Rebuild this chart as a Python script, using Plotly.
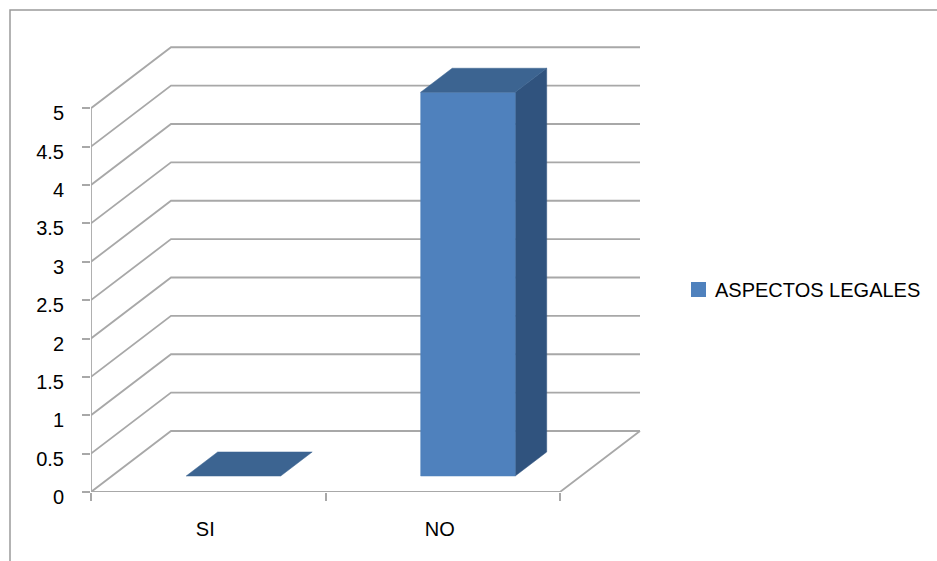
import plotly.graph_objects as go

# Data
categories = ["SI", "NO"]
values = [0, 5]
series_name = "ASPECTOS LEGALES"
y_ticks = [0, 0.5, 1, 1.5, 2, 2.5, 3, 3.5, 4, 4.5, 5]

# Styling / oblique projection constants
W, H = 937, 561
M_L, M_R, M_T, M_B = 91, 292, 40, 69
PX_CAT = 234.5          # pixels per category slot
PX_VAL = 76.75          # pixels per value unit
DX = 80 / PX_CAT        # depth offset of the back wall (x, category units)
DY = 61 / PX_VAL        # depth offset of the back wall (y, value units)
F0, F1 = 0.262, 0.656   # bar front / back depth fractions
BAR_W = 0.403
BAR_SHIFT = 0.018
GRID = "#A8A8A8"
FRONT = "#4F81BD"
TOP = "#3C6491"
SIDE = "#30537E"
FONT = "Liberation Sans, Arial, sans-serif"

plot_w = W - M_L - M_R
plot_h = H - M_T - M_B
x_max = plot_w / PX_CAT
y_max = plot_h / PX_VAL
n = len(categories)

fig = go.Figure()

# Back wall gridlines and floor
gx, gy = [], []
for v in y_ticks:
    gx += [0, DX, n + DX, None]
    gy += [v, v + DY, v + DY, None]
gx += [0, n, n + DX, None]
gy += [0, 0, DY, None]
fig.add_trace(go.Scatter(x=gx, y=gy, mode="lines",
                         line=dict(color=GRID, width=1.8),
                         hoverinfo="skip", showlegend=False))

# Vertical value axis line
fig.add_trace(go.Scatter(x=[0, 0], y=[0, max(y_ticks)], mode="lines",
                         line=dict(color=GRID, width=1.8),
                         hoverinfo="skip", showlegend=False))


def face(xs, ys, color):
    fig.add_trace(go.Scatter(x=xs + [xs[0]], y=ys + [ys[0]], mode="lines",
                             fill="toself", fillcolor=color,
                             line=dict(color=color, width=0.5),
                             hoverinfo="skip", showlegend=False))


for i, v in enumerate(values):
    c = i + 0.5 + BAR_SHIFT
    xl, xr = c - BAR_W / 2, c + BAR_W / 2
    fx0, fy0 = F0 * DX, F0 * DY
    fx1, fy1 = F1 * DX, F1 * DY
    if v > 0:
        # right side face
        face([xr + fx0, xr + fx1, xr + fx1, xr + fx0],
             [fy0, fy1, fy1 + v, fy0 + v], SIDE)
        # front face
        face([xl + fx0, xr + fx0, xr + fx0, xl + fx0],
             [fy0, fy0, fy0 + v, fy0 + v], FRONT)
    # top face
    face([xl + fx0, xr + fx0, xr + fx1, xl + fx1],
         [fy0 + v, fy0 + v, fy1 + v, fy1 + v], TOP)

fig.update_xaxes(range=[0, x_max], showgrid=False, zeroline=False,
                 showline=False, tickvals=[i + 0.5 for i in range(n)],
                 ticktext=categories, ticks="",
                 minor=dict(tickvals=list(range(n + 1)), ticks="outside",
                            ticklen=8, tickwidth=1.5, tickcolor=GRID),
                 tickfont=dict(family=FONT, size=20, color="#000000"),
                 ticklabelstandoff=23, ticklabelshift=-3, fixedrange=True)
fig.update_yaxes(range=[0, y_max], showgrid=False, zeroline=False,
                 showline=False, tickvals=y_ticks,
                 ticks="outside", ticklen=8, tickwidth=1.5, tickcolor=GRID,
                 tickfont=dict(family=FONT, size=20, color="#000000"),
                 ticklabelstandoff=14, ticklabelshift=5, fixedrange=True)


def px_x(p):
    return (p - M_L) / plot_w


def px_y(p):
    return (H - M_B - p) / plot_h


shapes = [
    # chart border
    dict(type="rect", xref="paper", yref="paper",
         x0=px_x(10), x1=px_x(W + 20), y0=px_y(H + 20), y1=px_y(10),
         line=dict(color="#9A9A9A", width=1.5), fillcolor="rgba(0,0,0,0)"),
    # legend swatch
    dict(type="rect", xref="paper", yref="paper",
         x0=px_x(691), x1=px_x(706), y0=px_y(297), y1=px_y(282),
         line=dict(width=0), fillcolor=FRONT),
]
annotations = [
    dict(xref="paper", yref="paper", x=px_x(713), y=px_y(290),
         xanchor="left", yanchor="middle", showarrow=False,
         text=series_name, font=dict(family=FONT, size=20, color="#000000")),
]

fig.update_layout(width=W, height=H,
                  margin=dict(l=M_L, r=M_R, t=M_T, b=M_B, autoexpand=False),
                  paper_bgcolor="white", plot_bgcolor="white",
                  showlegend=False, shapes=shapes, annotations=annotations)

fig.write_html("out.html", config={"displayModeBar": False})
